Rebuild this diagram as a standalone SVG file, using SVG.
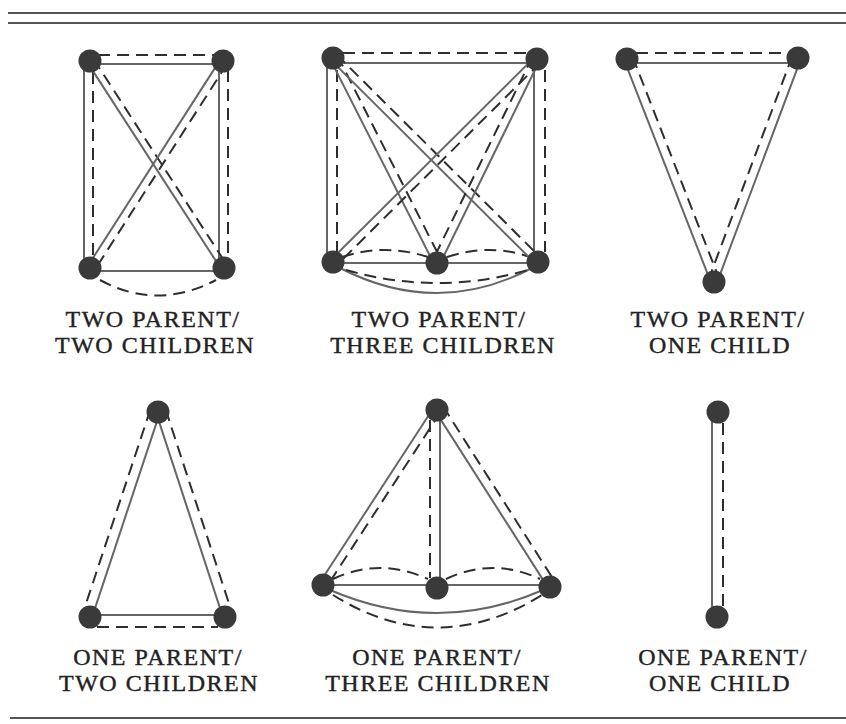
<svg xmlns="http://www.w3.org/2000/svg" width="846" height="724" viewBox="0 0 846 724">
<style>
.rule{stroke:#555;stroke-width:2;fill:none}
.s{stroke:#666;stroke-width:2;fill:none}
.d{stroke:#2e2e2e;stroke-width:2;fill:none;stroke-dasharray:12 7}
.n{fill:#3a3a3a}
.t{font-family:"Liberation Serif",serif;font-size:24px;letter-spacing:1.5px;fill:#222;stroke:#222;stroke-width:0.4;text-anchor:middle}
</style>
<rect width="846" height="724" fill="#fff"/>
<g id="rules">
<line class="rule" x1="8" y1="13" x2="846" y2="13"/>
<line class="rule" x1="8" y1="23" x2="846" y2="23"/>
<line class="rule" x1="10" y1="718" x2="846" y2="718"/>
</g>
<g id="connectors">
<!-- panel 1 -->
<line class="s" x1="90" y1="64" x2="223" y2="64"/>
<line class="d" x1="98" y1="55" x2="216" y2="55"/>
<line class="s" x1="84" y1="61" x2="84" y2="268"/>
<line class="d" x1="93" y1="72" x2="93" y2="258"/>
<line class="s" x1="219" y1="61" x2="219" y2="268"/>
<line class="d" x1="228" y1="70" x2="228" y2="258"/>
<line class="s" x1="90" y1="271" x2="224" y2="271"/>
<path class="d" d="M100 280 Q157 311 216 280"/>
<line class="s" x1="87.5" y1="62.6" x2="221.5" y2="269.6"/>
<line class="d" x1="93.4" y1="58.8" x2="227.4" y2="265.8"/>
<line class="s" x1="220.5" y1="59.4" x2="87.5" y2="266.4"/>
<line class="d" x1="227.2" y1="63.7" x2="94.2" y2="270.7"/>
<!-- panel 2 -->
<line class="s" x1="333" y1="63" x2="537" y2="63"/>
<line class="d" x1="343" y1="53" x2="528" y2="53"/>
<line class="s" x1="327" y1="58" x2="327" y2="262"/>
<line class="d" x1="337" y1="70" x2="337" y2="252"/>
<line class="s" x1="534" y1="59" x2="534" y2="262"/>
<line class="d" x1="545" y1="70" x2="545" y2="252"/>
<line class="s" x1="333" y1="263" x2="538" y2="263"/>
<path class="d" d="M342 257 Q385 243 428 257"/>
<path class="d" d="M447 257 Q490 243 530 257"/>
<path class="s" d="M340 268 Q437 318 532 268"/>
<path class="d" d="M346 270 Q437 296 528 270"/>
<line class="s" x1="330.3" y1="59.4" x2="434.3" y2="264.4"/>
<line class="d" x1="337.5" y1="55.7" x2="441.5" y2="260.7"/>
<line class="s" x1="330.9" y1="60.1" x2="535.9" y2="264.1"/>
<line class="d" x1="336.5" y1="54.5" x2="541.5" y2="258.5"/>
<line class="s" x1="534.9" y1="56.9" x2="330.9" y2="259.9"/>
<line class="d" x1="540.5" y1="62.5" x2="336.5" y2="265.5"/>
<line class="s" x1="539.7" y1="60.3" x2="439.7" y2="264.3"/>
<line class="d" x1="532.5" y1="56.8" x2="432.5" y2="260.8"/>
<!-- panel 3 -->
<line class="s" x1="627" y1="63" x2="798" y2="63"/>
<line class="d" x1="636" y1="53" x2="790" y2="53"/>
<line class="s" x1="624.2" y1="60.1" x2="711.2" y2="283.1"/>
<line class="d" x1="632.6" y1="56.8" x2="719.6" y2="279.8"/>
<line class="s" x1="800.8" y1="59.1" x2="716.8" y2="283.1"/>
<line class="d" x1="792.4" y1="55.9" x2="708.4" y2="279.9"/>
<!-- panel 4 -->
<line class="s" x1="159.9" y1="412.6" x2="91.9" y2="617.6"/>
<line class="d" x1="150.4" y1="409.5" x2="82.4" y2="614.5"/>
<line class="s" x1="156.1" y1="412.6" x2="223.1" y2="617.6"/>
<line class="d" x1="165.6" y1="409.5" x2="232.6" y2="614.5"/>
<line class="s" x1="90" y1="615" x2="225" y2="615"/>
<line class="d" x1="97" y1="627" x2="218" y2="627"/>
<!-- panel 5 -->
<line class="s" x1="433.6" y1="407.8" x2="319.6" y2="582.8"/>
<line class="d" x1="440.4" y1="412.2" x2="326.4" y2="587.2"/>
<line class="s" x1="440" y1="410" x2="440" y2="588"/>
<line class="d" x1="430" y1="420" x2="430" y2="578"/>
<line class="s" x1="435.3" y1="411.1" x2="548.3" y2="588.1"/>
<line class="d" x1="442.9" y1="406.2" x2="555.9" y2="583.2"/>
<line class="s" x1="323" y1="585" x2="550" y2="585"/>
<path class="d" d="M333 579 Q380 557 428 579"/>
<path class="d" d="M446 579 Q493 557 540 579"/>
<path class="s" d="M330 590 Q437 636 543 590"/>
<path class="d" d="M333 595 Q437 660 542 595"/>
<!-- panel 6 -->
<line class="s" x1="712" y1="412" x2="712" y2="617"/>
<line class="d" x1="723" y1="423" x2="723" y2="606"/>
</g>
<g id="p1-n1"><circle class="n" cx="90" cy="61" r="11.5"/></g>
<g id="p1-n2"><circle class="n" cx="223" cy="61" r="11.5"/></g>
<g id="p1-n3"><circle class="n" cx="90" cy="268" r="11.5"/></g>
<g id="p1-n4"><circle class="n" cx="224" cy="268" r="11.5"/></g>
<g id="p2-n1"><circle class="n" cx="333" cy="58" r="11.5"/></g>
<g id="p2-n2"><circle class="n" cx="537" cy="59" r="11.5"/></g>
<g id="p2-n3"><circle class="n" cx="333" cy="262" r="11.5"/></g>
<g id="p2-n4"><circle class="n" cx="437" cy="263" r="11.5"/></g>
<g id="p2-n5"><circle class="n" cx="538" cy="262" r="11.5"/></g>
<g id="p3-n1"><circle class="n" cx="627" cy="59" r="11.5"/></g>
<g id="p3-n2"><circle class="n" cx="798" cy="58" r="11.5"/></g>
<g id="p3-n3"><circle class="n" cx="714" cy="282" r="11.5"/></g>
<g id="p4-n1"><circle class="n" cx="158" cy="412" r="11.5"/></g>
<g id="p4-n2"><circle class="n" cx="90" cy="617" r="11.5"/></g>
<g id="p4-n3"><circle class="n" cx="225" cy="617" r="11.5"/></g>
<g id="p5-n1"><circle class="n" cx="437" cy="410" r="11.5"/></g>
<g id="p5-n2"><circle class="n" cx="323" cy="585" r="11.5"/></g>
<g id="p5-n3"><circle class="n" cx="437" cy="588" r="11.5"/></g>
<g id="p5-n4"><circle class="n" cx="550" cy="587" r="11.5"/></g>
<g id="p6-n1"><circle class="n" cx="718" cy="412" r="11.5"/></g>
<g id="p6-n2"><circle class="n" cx="717" cy="617" r="11.5"/></g>
<g id="labels">
<text class="t" x="153" y="327">TWO PARENT/</text>
<text class="t" x="155" y="353">TWO CHILDREN</text>
<text class="t" x="439" y="327">TWO PARENT/</text>
<text class="t" x="443" y="353">THREE CHILDREN</text>
<text class="t" x="718" y="327">TWO PARENT/</text>
<text class="t" x="720" y="353">ONE CHILD</text>
<text class="t" x="158" y="665">ONE PARENT/</text>
<text class="t" x="159" y="691">TWO CHILDREN</text>
<text class="t" x="437" y="665">ONE PARENT/</text>
<text class="t" x="438" y="691">THREE CHILDREN</text>
<text class="t" x="723" y="665">ONE PARENT/</text>
<text class="t" x="720" y="691">ONE CHILD</text>
</g>
</svg>
